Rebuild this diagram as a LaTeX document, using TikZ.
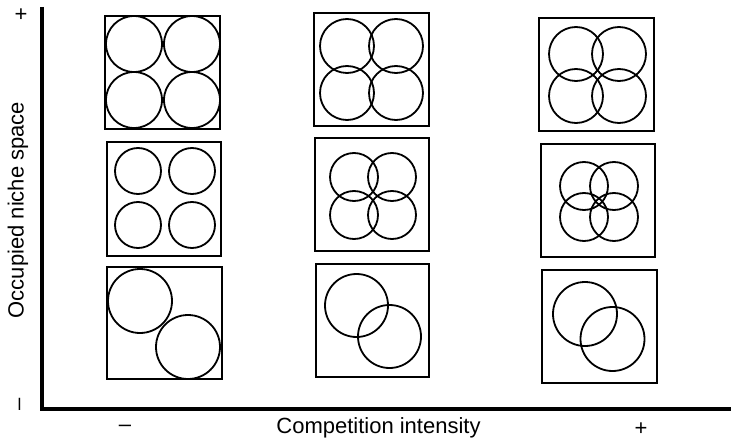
\documentclass[tikz,border=0pt]{standalone}
\usepackage{fontspec}
\setmainfont{Liberation Sans}
\begin{document}
\begin{tikzpicture}[x=1pt,y=-1pt,
  axis/.style={line width=3.6pt},
  panel/.style={line width=1.8pt},
  niche/.style={line width=1.8pt},
  lbl/.style={font=\fontsize{22}{25}\selectfont, inner sep=0pt}]
\useasboundingbox (0,0) rectangle (731,441);
% axes
\draw[axis] (42,7) -- (42,409) -- (731,409);
\node[lbl] (yplus) at (21,15) {+};
\node[lbl, rotate=90] (yminus) at (22,404) {–};
\node[lbl, rotate=90] (ylab) at (18,210) {Occupied niche space};
\node[lbl] (xminus) at (125,428) {–};
\node[lbl] (xlab) at (378.5,428) {Competition intensity};
\node[lbl] (xplus) at (641,429) {+};
% column 1
\draw[panel] (105,16) rectangle (220,129);
\foreach \cx/\cy in {134/44,192/44,134/100,192/100} \draw[niche] (\cx,\cy) circle (28);
\draw[panel] (107,142) rectangle (221,256);
\foreach \cx/\cy in {138/171,192/171,138/225,192/225} \draw[niche] (\cx,\cy) circle (23);
\draw[panel] (107,267) rectangle (222,379);
\draw[niche] (140,301) circle (32);
\draw[niche] (188,347) circle (32);
% column 2
\draw[panel] (314,13) rectangle (429,126);
\foreach \cx/\cy in {347/46,396/46,347/93,396/93} \draw[niche] (\cx,\cy) circle (27);
\draw[panel] (315,138) rectangle (429,251);
\foreach \cx/\cy in {354/177,392/177,354/215,392/215} \draw[niche] (\cx,\cy) circle (24);
\draw[panel] (316,264) rectangle (429,377);
\draw[niche] (356.5,305.5) circle (31.5);
\draw[niche] (389.5,336.5) circle (31.5);
% column 3
\draw[panel] (539,18) rectangle (654,131);
\foreach \cx/\cy in {576/54,619/54,576/96,619/96} \draw[niche] (\cx,\cy) circle (27);
\draw[panel] (541,144) rectangle (655,257);
\foreach \cx/\cy in {584/186,614/186,584/217,614/217} \draw[niche] (\cx,\cy) circle (24);
\draw[panel] (542,270) rectangle (657,383);
\draw[niche] (585,314) circle (32);
\draw[niche] (612.5,339) circle (32);
\end{tikzpicture}
\end{document}
